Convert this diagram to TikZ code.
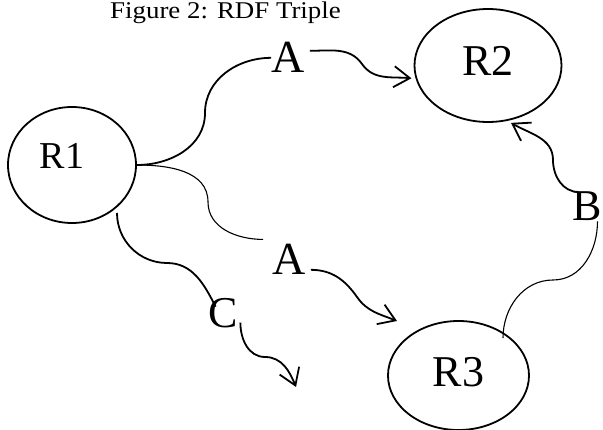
\documentclass[tikz,border=0pt]{standalone}
\usepackage{graphicx}
\usepackage{fontspec}
\setmainfont{Liberation Serif}
\usetikzlibrary{arrows.meta,shapes.geometric}
\begin{document}
\begin{tikzpicture}[x=1pt,y=1pt,
  res/.style={draw,ellipse,line width=1.8pt,inner sep=0pt},
  lbl/.style={inner sep=0pt,anchor=base},
  big/.style={font=\fontsize{44}{46}\selectfont},
  edge/.style={line width=1.8pt},
  thinedge/.style={line width=1.1pt},
  tip/.style={-{Straight Barb[length=16pt,width=21pt]}}
]
\useasboundingbox (0,0) rectangle (603,-430);

% resources
\node[res,minimum width=128pt,minimum height=116pt] (R1) at (72,-165) {};
\node[res,minimum width=147pt,minimum height=113pt] (R2) at (488,-65.5) {};
\node[res,minimum width=141pt,minimum height=109pt] (R3) at (458.5,-375.5) {};

% texts
\node[lbl,font=\fontsize{24}{26}\selectfont] (title) at (225.5,-19) {\scalebox{1.12}[1]{Figure 2: RDF Triple}};
\node[lbl,font=\fontsize{38}{40}\selectfont] (R1t) at (62,-169) {R1};
\node[lbl,big] (R2t) at (488,-76) {R2};
\node[lbl,big] (R3t) at (458.5,-387) {R3};
\node[lbl,font=\fontsize{46}{48}\selectfont] (A1) at (288,-73) {A};
\node[lbl,font=\fontsize{46}{48}\selectfont] (A2) at (289,-275) {A};
\node[lbl,big] (C) at (223.5,-328) {C};
\node[lbl,big] (B) at (587.5,-221) {B};
\coordinate (Cend) at (296,-387);

% R1 -A-> R2
\draw[edge] (R1.east) to[out=0,in=-90] (205,-113) to[out=90,in=180] (A1.west);
\draw[edge,tip] ([shift={(5,7)}]A1.east) to[out=0,in=125] (362,-64)
  to[out=-55,in=175] ([xshift=-4pt]R2.190);

% R1 -A-> R3
\draw[thinedge] (R1.east) to[out=0,in=90] (208,-202) to[out=-90,in=180] ([shift={(-9,5)}]A2.north west);
\draw[edge,tip] ([shift={(5,-10)}]A2.east) to[out=0,in=125] (357,-297)
  to[out=-55,in=158] ([shift={(-61.5,54.5)}]R3.center);

% R3 -B-> R2
\draw[thinedge] ([shift={(44.5,37.5)}]R3.center) to[out=90,in=180] (553,-280)
  to[out=0,in=-90] ([xshift=10pt]B.south);
\draw[edge,tip] ([xshift=6pt]B.north west) to[out=180,in=-90] (553,-160)
  to[out=90,in=-30] ([xshift=23pt]R2.south);

% R1 -C->
\draw[edge] ([shift={(45,-48)}]R1.center) to[out=-90,in=180] (167,-263)
  to[out=0,in=117] ([shift={(7,-8)}]C.north west);
\draw[edge,tip] ([shift={(2,-9)}]C.east) to[out=-90,in=180] (265,-357)
  to[out=0,in=112] (Cend);
\end{tikzpicture}
\end{document}
